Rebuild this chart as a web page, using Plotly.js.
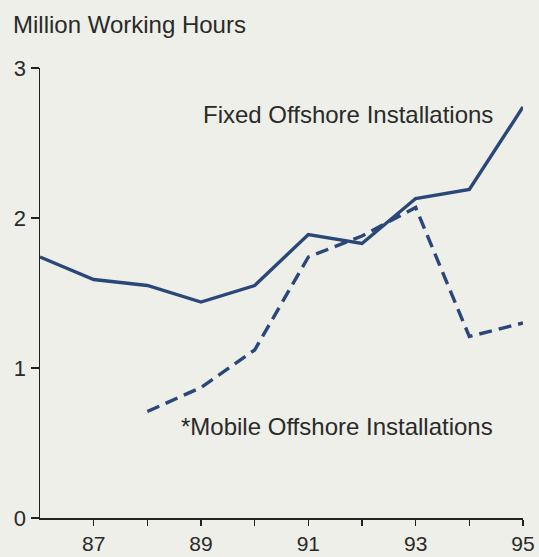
<!DOCTYPE html>
<html>
<head>
<meta charset="utf-8">
<script src="https://cdn.plot.ly/plotly-3.0.1.min.js"></script>
<style>
  html, body { margin: 0; padding: 0; background: #edefe8; }
  #chart { width: 539px; height: 557px; }
</style>
</head>
<body>
<div id="chart"></div>
<script>
// Working hours offshore, millions
const years = [86, 87, 88, 89, 90, 91, 92, 93, 94, 95];
const fixedHours = [1.74, 1.59, 1.55, 1.44, 1.55, 1.89, 1.83, 2.13, 2.19, 2.74];
const mobileYears = [88, 89, 90, 91, 92, 93, 94, 95];
const mobileHours = [0.71, 0.87, 1.12, 1.74, 1.88, 2.07, 1.21, 1.30];

const xTickVals = [87, 88, 89, 90, 91, 92, 93, 94, 95];
const xTickText = ['87', '', '89', '', '91', '', '93', '', '95'];
const yTickVals = [0, 1, 2, 3];

const lineColor = '#2b477a';
const textColor = '#2a2a2a';
const fontFamily = '"Liberation Sans", Arial, Helvetica, sans-serif';

const traces = [
  {
    x: years, y: fixedHours, type: 'scatter', mode: 'lines',
    line: { color: lineColor, width: 3.4 },
    hoverinfo: 'skip'
  },
  {
    x: mobileYears, y: mobileHours, type: 'scatter', mode: 'lines',
    line: { color: lineColor, width: 3.4, dash: '13px,7px' },
    hoverinfo: 'skip'
  }
];

const layout = {
  width: 539, height: 557,
  margin: { l: 40, r: 16, t: 68, b: 39 },
  paper_bgcolor: '#edefe8',
  plot_bgcolor: '#edefe8',
  showlegend: false,
  font: { family: fontFamily, size: 22, color: textColor },
  xaxis: {
    range: [86, 95], showgrid: false, zeroline: false,
    showline: true, linecolor: '#222', linewidth: 1.5,
    ticks: 'outside', ticklen: 6, tickwidth: 1.5, tickcolor: '#222',
    tickvals: xTickVals, ticktext: xTickText,
    tickfont: { size: 21, color: textColor }
  },
  yaxis: {
    range: [0, 3], showgrid: false, zeroline: false,
    showline: true, linecolor: '#222', linewidth: 1.5,
    ticks: 'outside', ticklen: 8, tickwidth: 1.5, tickcolor: '#222',
    tickvals: yTickVals,
    tickfont: { size: 22, color: textColor }
  },
  annotations: [
    {
      text: 'Million Working Hours', xref: 'paper', yref: 'paper',
      x: -29 / 483, y: 1 + 43 / 450, xanchor: 'left', yanchor: 'middle',
      showarrow: false, font: { size: 24, color: textColor }
    },
    {
      text: 'Fixed Offshore Installations', xref: 'x', yref: 'y',
      x: 94.48, y: 2.69, xanchor: 'right', yanchor: 'middle',
      showarrow: false, font: { size: 24, color: textColor }
    },
    {
      text: '*Mobile Offshore Installations', xref: 'x', yref: 'y',
      x: 94.48, y: 0.61, xanchor: 'right', yanchor: 'middle',
      showarrow: false, font: { size: 24, color: textColor }
    }
  ]
};

Plotly.newPlot('chart', traces, layout, { staticPlot: true, displayModeBar: false });
</script>
</body>
</html>
